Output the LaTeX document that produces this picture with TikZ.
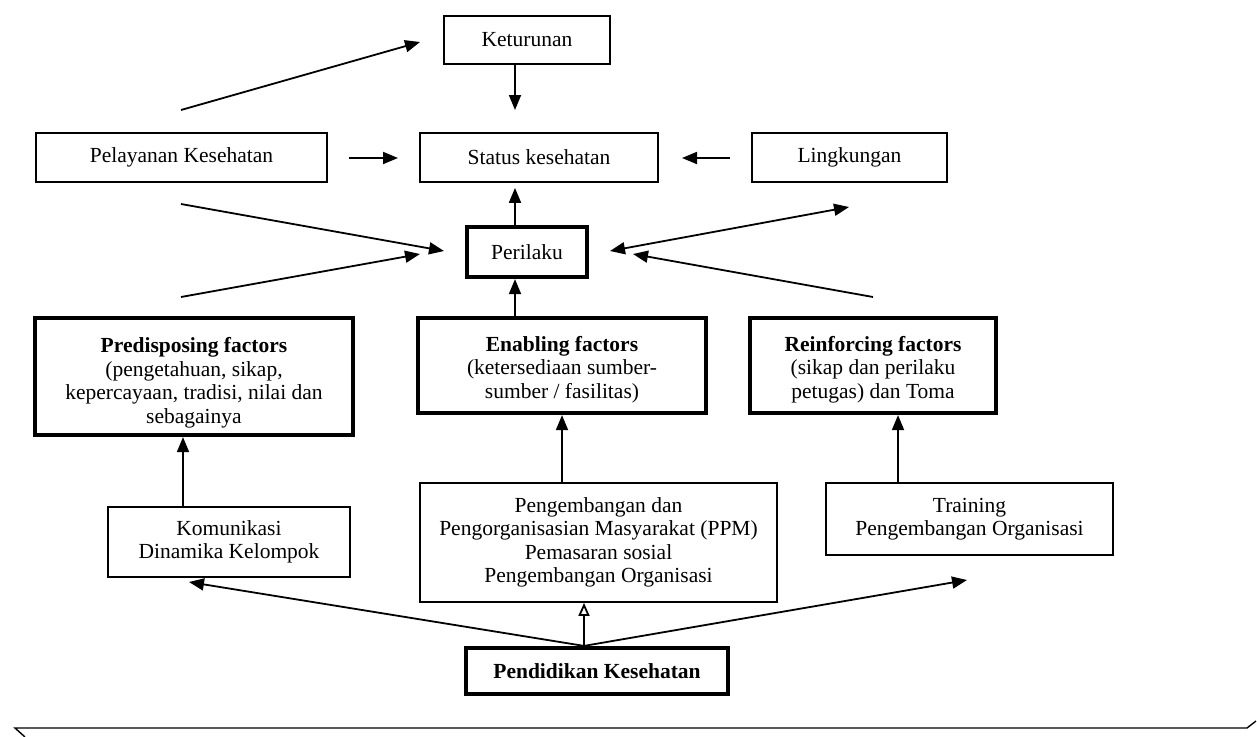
\documentclass[tikz,border=0pt]{standalone}
\usepackage{fontspec}
\setmainfont{Liberation Serif}
\usetikzlibrary{arrows.meta,calc}

\begin{document}
\begin{tikzpicture}[x=1pt,y=-1pt,
  box/.style={draw, line width=1.8pt, inner sep=0pt, align=center,
    font=\fontsize{21.5}{23.5}\selectfont},
  heavybox/.style={box, line width=4.2pt},
  arr/.style={line width=1.8pt, -{Triangle[length=15pt,width=12pt]}},
  openarr/.style={line width=1.8pt, -{Triangle[open,length=13pt,width=11pt]}},
  twoarr/.style={line width=1.8pt, {Triangle[length=15pt,width=12pt]}-{Triangle[length=15pt,width=12pt]}},
]
\useasboundingbox (0,0) rectangle (1257,736);

% upper row
\node[box, minimum width=166pt, minimum height=48pt] (ket) at (527,40) {Keturunan};
\node[box, minimum width=291pt, minimum height=49pt] (pel) at (181.5,157.5) {Pelayanan Kesehatan};
\node[box, minimum width=238pt, minimum height=49pt] (sta) at (539,157.5) {Status kesehatan};
\node[box, minimum width=195pt, minimum height=49pt] (lin) at (849.5,157.5) {Lingkungan};
\node[heavybox, minimum width=120pt, minimum height=50pt] (per) at (527,252) {Perilaku};

% factor boxes
\node[heavybox, minimum width=318pt, minimum height=117pt] (pre) at (194,376.5)
  {\rule{0pt}{28pt}\textbf{Predisposing factors}\\(pengetahuan, sikap,\\kepercayaan, tradisi, nilai dan\\sebagainya};
\node[heavybox, minimum width=288pt, minimum height=95pt] (ena) at (562,365.5)
  {\rule{0pt}{23pt}\textbf{Enabling factors}\\(ketersediaan sumber-\\sumber / fasilitas)};
\node[heavybox, minimum width=246pt, minimum height=95pt] (rei) at (873,365.5)
  {\rule{0pt}{23pt}\textbf{Reinforcing factors}\\(sikap dan perilaku\\petugas) dan Toma};

% methods
\node[box, minimum width=242pt, minimum height=70pt] (kom) at (229,542)
  {Komunikasi\\Dinamika Kelompok};
\node[box, minimum width=357pt, minimum height=119pt] (ppm) at (598.5,542.5)
  {Pengembangan dan\\Pengorganisasian Masyarakat (PPM)\\Pemasaran sosial\\Pengembangan Organisasi};
\node[box, minimum width=287pt, minimum height=72pt] (tra) at (969.5,519)
  {Training\\Pengembangan Organisasi};
\node[heavybox, minimum width=262pt, minimum height=46pt] (pen) at (597,671)
  {\textbf{Pendidikan Kesehatan}};

% reference columns and free arrow ends
\coordinate (colA) at (515,0);
\coordinate (colB) at (183,0);
\coordinate (colC) at (562,0);
\coordinate (colD) at (898,0);
\coordinate (colE) at (584,0);
\coordinate (topTail) at (181,110);
\coordinate (topTip) at (420,42);
\coordinate (ketTip) at (515,110);
\coordinate (pelTail) at (349,158);
\coordinate (pelTip) at (398,158);
\coordinate (linTail) at (730,158);
\coordinate (linTip) at (682,158);
\coordinate (luTail) at (181,204);
\coordinate (luTip) at (444,251);
\coordinate (llTail) at (181,297);
\coordinate (llTip) at (420,254);
\coordinate (rdA) at (610,251);
\coordinate (rdB) at (849,207);
\coordinate (rlTail) at (873,297);
\coordinate (rlTip) at (633,254);
\coordinate (komTip) at (189,582);
\coordinate (traTip) at (967,580);

% arrows of the upper part
\draw[arr] (topTail) -- (topTip);
\draw[arr] (ket.south -| colA) -- (ketTip);
\draw[arr] (pelTail) -- (pelTip);
\draw[arr] (linTail) -- (linTip);
\draw[arr, shorten >=5pt] (per.north -| colA) -- (sta.south -| colA);
\draw[arr] (luTail) -- (luTip);
\draw[arr] (llTail) -- (llTip);
\draw[twoarr] (rdA) -- (rdB);
\draw[arr] (rlTail) -- (rlTip);

% arrows of the lower part
\draw[arr] (ena.north -| colA) -- (per.south -| colA);
\draw[arr] (kom.north -| colB) -- (pre.south -| colB);
\draw[arr] (ppm.north -| colC) -- (ena.south -| colC);
\draw[arr] (tra.north -| colD) -- (rei.south -| colD);
\draw[arr] (pen.north -| colE) -- (komTip);
\draw[openarr] (pen.north -| colE) -- (ppm.south -| colE);
\draw[arr] (pen.north -| colE) -- (traTip);

% long rule along the bottom
\coordinate (ruleL) at (15,728);
\coordinate (ruleR) at (1247,728);
\draw[line width=1.4pt] (25,737) -- (ruleL) -- (ruleR) -- (1256,721);
\end{tikzpicture}
\end{document}
